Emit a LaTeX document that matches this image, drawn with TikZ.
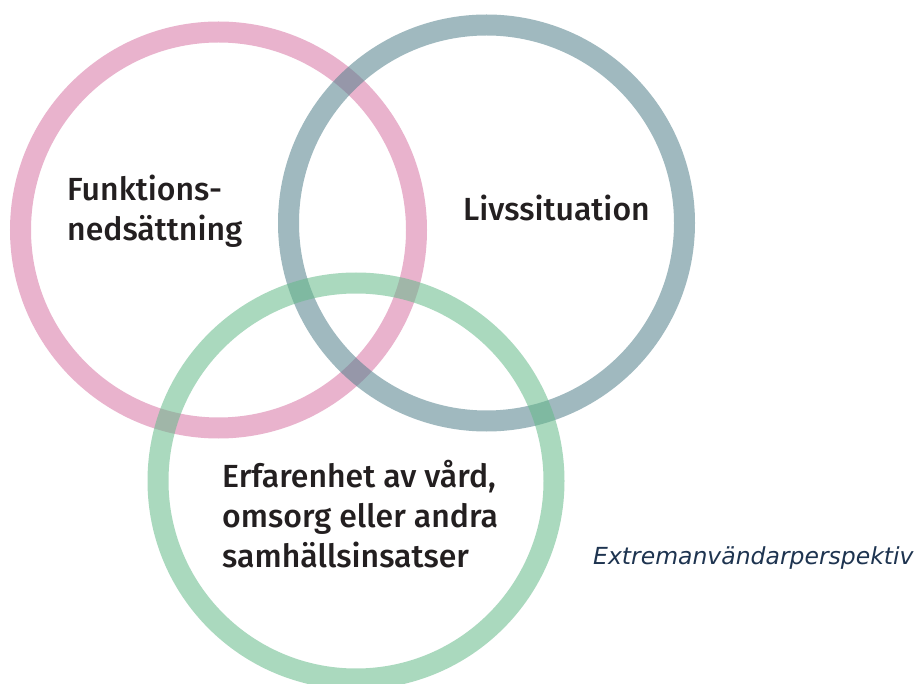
\documentclass[tikz,border=0pt]{standalone}
\usepackage{fontspec}
\setmainfont{Fira Sans}
\newfontfamily\lblfont{Fira Sans Medium}
\newfontfamily\captfont{DejaVu Sans}
\definecolor{pinkc}{RGB}{215,117,164}
\definecolor{bluec}{RGB}{82,128,140}
\definecolor{greenc}{RGB}{101,186,138}
\definecolor{txt}{RGB}{35,31,32}
\definecolor{navy}{RGB}{30,52,80}
\tikzset{
  ring/.style={line width=21pt, draw opacity=0.55},
  label/.style={inner sep=0pt, anchor=base west, align=left, text=txt,
    font=\lblfont\fontsize{32}{40}\selectfont},
  capt/.style={inner sep=0pt, anchor=base west, text=navy,
    font=\captfont\itshape\fontsize{23.5}{28}\selectfont}
}
\begin{document}
\begin{tikzpicture}[x=1pt,y=-1pt]
\useasboundingbox (0,0) rectangle (921,684);
\clip (0,0) rectangle (921,684);
\fill[white] (0,0) rectangle (921,684);
\draw[ring, pinkc] (218.5,230) circle[radius=198];
\draw[ring, bluec] (486.5,223) circle[radius=198];
\draw[ring, greenc] (356,481) circle[radius=198];
\node[label] (fn) at (67,241) {Funktions-\\nedsättning};
\node[label] (liv) at (463,221) {Livssituation};
\node[label] (erf) at (222,567) {Erfarenhet av vård,\\omsorg eller andra\\samhällsinsatser};
\node[capt] (ext) at (593,564) {Extremanvändarperspektiv};
\end{tikzpicture}
\end{document}
